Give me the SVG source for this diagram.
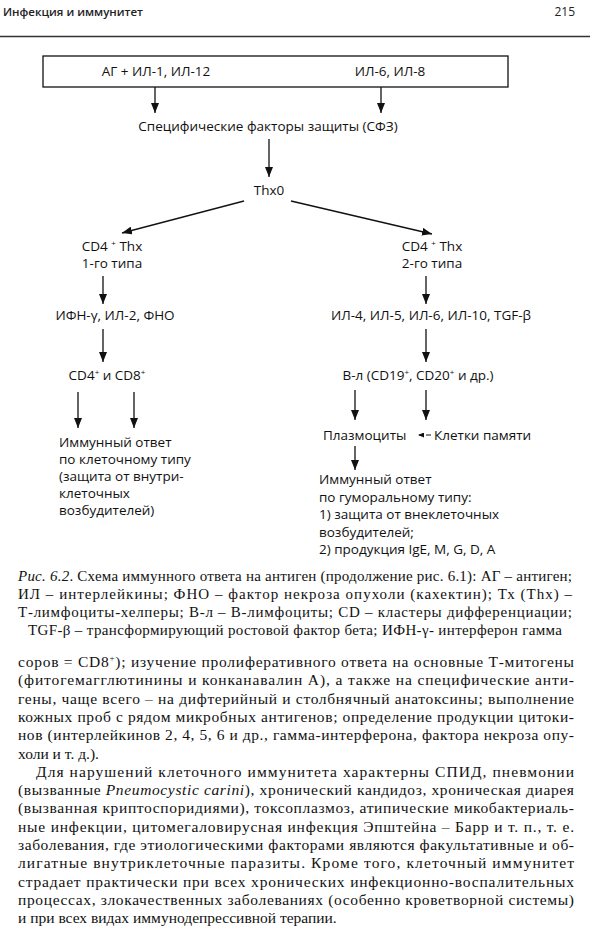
<svg xmlns="http://www.w3.org/2000/svg" width="590" height="930" viewBox="0 0 590 930">
<defs>
<marker id="ah" markerUnits="userSpaceOnUse" markerWidth="10" markerHeight="8" refX="10" refY="4" orient="auto">
<path d="M0,0 L10,4 L0,8 z" fill="#111"/>
</marker>
<marker id="ahs" markerUnits="userSpaceOnUse" markerWidth="6" markerHeight="5" refX="6" refY="2.5" orient="auto">
<path d="M0,0 L6,2.5 L0,5 z" fill="#111"/>
</marker>
</defs>
<style>
.d{font-family:"Open Sans","Liberation Sans",sans-serif;font-size:13.5px;fill:#111}
.c{text-anchor:middle}
.hd{font-family:"Open Sans","Liberation Sans",sans-serif;font-size:11.5px;font-weight:600;fill:#222}
.pg{font-family:"Open Sans","Liberation Sans",sans-serif;font-size:12px;fill:#222}
.cap{font-family:"Liberation Serif","Times New Roman",serif;font-size:15px;fill:#111}
.bd{font-family:"Liberation Serif","Times New Roman",serif;font-size:15.5px;fill:#111}
.ln{stroke:#111;stroke-width:1.3;fill:none}
.sup{font-size:8px}
</style>
<rect width="590" height="930" fill="#fff"/>
<g id="header">
<text class="hd" x="3" y="16">Инфекция и иммунитет</text>
<text class="pg" x="575" y="16" text-anchor="end">215</text>
<line x1="0" y1="36.5" x2="590" y2="36.5" stroke="#333" stroke-width="1.5"/>
</g>
<g id="connectors" class="ln">
<line x1="155" y1="87" x2="155" y2="113" marker-end="url(#ah)"/>
<line x1="381" y1="87" x2="381" y2="113" marker-end="url(#ah)"/>
<line x1="269" y1="139" x2="269" y2="177" marker-end="url(#ah)"/>
<line x1="244" y1="201" x2="122" y2="233" marker-end="url(#ah)"/>
<line x1="291" y1="201" x2="432" y2="234" marker-end="url(#ah)"/>
<line x1="103" y1="276" x2="103" y2="304" marker-end="url(#ah)"/>
<line x1="426" y1="276" x2="426" y2="304" marker-end="url(#ah)"/>
<line x1="103" y1="329" x2="103" y2="362" marker-end="url(#ah)"/>
<line x1="426" y1="329" x2="426" y2="362" marker-end="url(#ah)"/>
<line x1="78" y1="392" x2="78" y2="428" marker-end="url(#ah)"/>
<line x1="134" y1="392" x2="134" y2="428" marker-end="url(#ah)"/>
<line x1="355" y1="390" x2="355" y2="420" marker-end="url(#ah)"/>
<line x1="426" y1="390" x2="426" y2="420" marker-end="url(#ah)"/>
<line x1="431" y1="435" x2="418" y2="435" stroke-width="1" stroke-dasharray="5,2" marker-end="url(#ahs)"/>
<line x1="355" y1="446" x2="355" y2="470" marker-end="url(#ah)"/>
</g>
<g id="n-input">
<rect x="43" y="56" width="465" height="31" fill="none" stroke="#111" stroke-width="1.3"/>
<text class="d c" x="156" y="76">АГ + ИЛ-1, ИЛ-12</text>
<text class="d c" x="390" y="76">ИЛ-6, ИЛ-8</text>
</g>
<g id="n-sfz"><text class="d c" x="268" y="131">Специфические факторы защиты (СФЗ)</text></g>
<g id="n-thx0"><text class="d c" x="269" y="195">Thx0</text></g>
<g id="n-th1">
<text class="d c" x="112" y="251">CD4 <tspan class="sup" dy="-5">+</tspan><tspan dy="5"> Thx</tspan></text>
<text class="d c" x="112" y="268">1-го типа</text>
</g>
<g id="n-th2">
<text class="d c" x="432" y="251">CD4 <tspan class="sup" dy="-5">+</tspan><tspan dy="5"> Thx</tspan></text>
<text class="d c" x="432" y="268">2-го типа</text>
</g>
<g id="n-cyt1"><text class="d c" x="115" y="320">ИФН-γ, ИЛ-2, ФНО</text></g>
<g id="n-cyt2"><text class="d c" x="431" y="320">ИЛ-4, ИЛ-5, ИЛ-6, ИЛ-10, TGF-β</text></g>
<g id="n-cd"><text class="d c" x="107" y="380">CD4<tspan class="sup" dy="-5">+</tspan><tspan dy="5"> и CD8</tspan><tspan class="sup" dy="-5">+</tspan></text></g>
<g id="n-bl"><text class="d c" x="418" y="380">В-л (CD19<tspan class="sup" dy="-5">+</tspan><tspan dy="5">, CD20</tspan><tspan class="sup" dy="-5">+</tspan><tspan dy="5"> и др.)</tspan></text></g>
<g id="n-plasma"><text class="d" x="323" y="440">Плазмоциты</text></g>
<g id="n-memory"><text class="d" x="434" y="440">Клетки памяти</text></g>
<g id="n-cell">
<text class="d" x="59" y="447">Иммунный ответ</text>
<text class="d" x="59" y="464">по клеточному типу</text>
<text class="d" x="59" y="481">(защита от внутри-</text>
<text class="d" x="59" y="498">клеточных</text>
<text class="d" x="59" y="515">возбудителей)</text>
</g>
<g id="n-humoral">
<text class="d" x="319" y="484">Иммунный ответ</text>
<text class="d" x="319" y="501.5">по гуморальному типу:</text>
<text class="d" x="319" y="519">1) защита от внеклеточных</text>
<text class="d" x="319" y="536.5">возбудителей;</text>
<text class="d" x="319" y="554">2) продукция IgE, M, G, D, A</text>
</g>
<g id="caption">
<text class="cap" x="18" y="581" textLength="554" lengthAdjust="spacing"><tspan font-style="italic">Рис. 6.2</tspan>. Схема иммунного ответа на антиген (продолжение рис. 6.1): АГ – антиген;</text>
<text class="cap" x="18" y="599" textLength="554" lengthAdjust="spacing">ИЛ – интерлейкины; ФНО – фактор некроза опухоли (кахектин); Тх (Thx) –</text>
<text class="cap" x="18" y="617" textLength="554" lengthAdjust="spacing">Т-лимфоциты-хелперы; В-л – В-лимфоциты; CD – кластеры дифференциации;</text>
<text class="cap" x="28" y="635" textLength="534" lengthAdjust="spacing">TGF-β – трансформирующий ростовой фактор бета; ИФН-γ- интерферон гамма</text>
</g>
<g id="body">
<text class="bd" x="18" y="667" textLength="556" lengthAdjust="spacing">соров = CD8<tspan font-size="9" dy="-6">+</tspan><tspan dy="6">); изучение пролиферативного ответа на основные Т-митогены</tspan></text>
<text class="bd" x="18" y="685.3" textLength="556" lengthAdjust="spacing">(фитогемагглютинины и конканавалин А), а также на специфические анти-</text>
<text class="bd" x="18" y="703.6" textLength="556" lengthAdjust="spacing">гены, чаще всего – на дифтерийный и столбнячный анатоксины; выполнение</text>
<text class="bd" x="18" y="721.9" textLength="556" lengthAdjust="spacing">кожных проб с рядом микробных антигенов; определение продукции цитоки-</text>
<text class="bd" x="18" y="740.2" textLength="556" lengthAdjust="spacing">нов (интерлейкинов 2, 4, 5, 6 и др., гамма-интерферона, фактора некроза опу-</text>
<text class="bd" x="18" y="758.5">холи и т. д.).</text>
<text class="bd" x="36" y="776.8" textLength="538" lengthAdjust="spacing">Для нарушений клеточного иммунитета характерны СПИД, пневмонии</text>
<text class="bd" x="18" y="795.1" textLength="556" lengthAdjust="spacing">(вызванные <tspan font-style="italic">Pneumocystic carini</tspan>), хронический кандидоз, хроническая диарея</text>
<text class="bd" x="18" y="813.4" textLength="556" lengthAdjust="spacing">(вызванная криптоспоридиями), токсоплазмоз, атипические микобактериаль-</text>
<text class="bd" x="18" y="831.7" textLength="556" lengthAdjust="spacing">ные инфекции, цитомегаловирусная инфекция Эпштейна – Барр и т. п., т. е.</text>
<text class="bd" x="18" y="850" textLength="556" lengthAdjust="spacing">заболевания, где этиологическими факторами являются факультативные и об-</text>
<text class="bd" x="18" y="868.3" textLength="556" lengthAdjust="spacing">лигатные внутриклеточные паразиты. Кроме того, клеточный иммунитет</text>
<text class="bd" x="18" y="886.6" textLength="556" lengthAdjust="spacing">страдает практически при всех хронических инфекционно-воспалительных</text>
<text class="bd" x="18" y="904.9" textLength="556" lengthAdjust="spacing">процессах, злокачественных заболеваниях (особенно кроветворной системы)</text>
<text class="bd" x="18" y="923.2">и при всех видах иммунодепрессивной терапии.</text>
</g>
</svg>
